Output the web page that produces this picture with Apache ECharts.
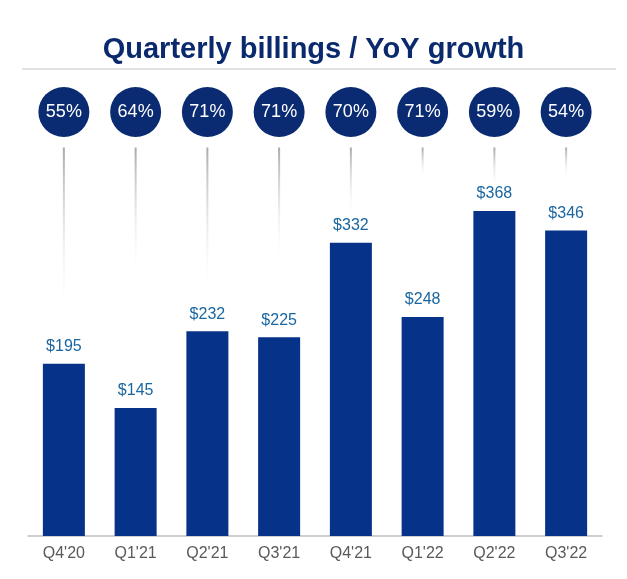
<!DOCTYPE html>
<html>
<head>
<meta charset="utf-8">
<script src="https://cdn.jsdelivr.net/npm/echarts@6/dist/echarts.min.js"></script>
<style>
html,body{margin:0;padding:0;background:#fff;}
#chart{width:627px;height:579px;}
</style>
</head>
<body>
<div id="chart"></div>
<script>
const categories = ["Q4'20", "Q1'21", "Q2'21", "Q3'21", "Q4'21", "Q1'22", "Q2'22", "Q3'22"];
const billings = [195, 145, 232, 225, 332, 248, 368, 346];
const yoyGrowth = [55, 64, 71, 71, 70, 71, 59, 54];
// where each faded connector line fades out, read on the billings scale
const connectorEnds = [245, 287, 271, 305, 358, 403, 392, 403];

const chart = echarts.init(document.getElementById('chart'));
const FONT = '"Liberation Sans", Arial, sans-serif';
const Y_MAX = 440;

chart.setOption({
  animation: false,
  textStyle: { fontFamily: FONT },
  title: {
    text: 'Quarterly billings / YoY growth',
    left: 'center',
    top: 30,
    textStyle: { fontFamily: FONT, fontSize: 29, fontWeight: 'bold', color: '#0b2a6e' }
  },
  graphic: [{
    type: 'line',
    shape: { x1: 22, y1: 69, x2: 616, y2: 69 },
    style: { stroke: '#d9d9d9', lineWidth: 1.5 }
  }],
  grid: [
    { left: 28, right: 25, top: 147.5, bottom: 43 },
    { left: 28, right: 25, top: 87, height: 50 }
  ],
  xAxis: [
    {
      type: 'category', data: categories, gridIndex: 0,
      axisLine: { lineStyle: { color: '#bfbfbf', width: 1.5 } },
      axisTick: { show: false },
      axisLabel: { color: '#595959', fontSize: 16, margin: 10, fontFamily: FONT }
    },
    { type: 'category', data: categories, gridIndex: 1, show: false }
  ],
  yAxis: [
    { type: 'value', min: 0, max: Y_MAX, gridIndex: 0, show: false, splitLine: { show: false } },
    { type: 'category', data: ['YoY'], gridIndex: 1, show: false }
  ],
  series: [
    {
      type: 'custom',
      xAxisIndex: 0, yAxisIndex: 0,
      data: connectorEnds.map((v, i) => [i, v]),
      silent: true,
      z: 1,
      renderItem: function (params, api) {
        const i = api.value(0);
        const x = api.coord([i, 0])[0];
        const yTop = api.coord([i, Y_MAX])[1];
        const yBot = api.coord([i, api.value(1)])[1];
        return {
          type: 'rect',
          shape: { x: x - 1, y: yTop, width: 2, height: yBot - yTop },
          style: {
            fill: new echarts.graphic.LinearGradient(0, 0, 0, 1, [
              { offset: 0, color: 'rgba(170,170,170,1)' },
              { offset: 1, color: 'rgba(255,255,255,0)' }
            ])
          }
        };
      }
    },
    {
      type: 'bar',
      xAxisIndex: 0, yAxisIndex: 0,
      data: billings,
      barWidth: 42,
      itemStyle: { color: '#063289' },
      z: 2,
      label: {
        show: true, position: 'top', distance: 9,
        formatter: p => '$' + p.value,
        color: '#1a66a0', fontSize: 16, fontFamily: FONT
      }
    },
    {
      type: 'scatter',
      xAxisIndex: 1, yAxisIndex: 1,
      data: yoyGrowth.map((v, i) => [categories[i], 'YoY', v]),
      symbol: 'circle',
      symbolSize: [51, 50],
      itemStyle: { color: '#0a2a72', opacity: 1 },
      label: {
        show: true, position: 'inside',
        formatter: p => p.value[2] + '%',
        color: '#ffffff', fontSize: 18, fontFamily: FONT
      }
    }
  ]
});
</script>
</body>
</html>
